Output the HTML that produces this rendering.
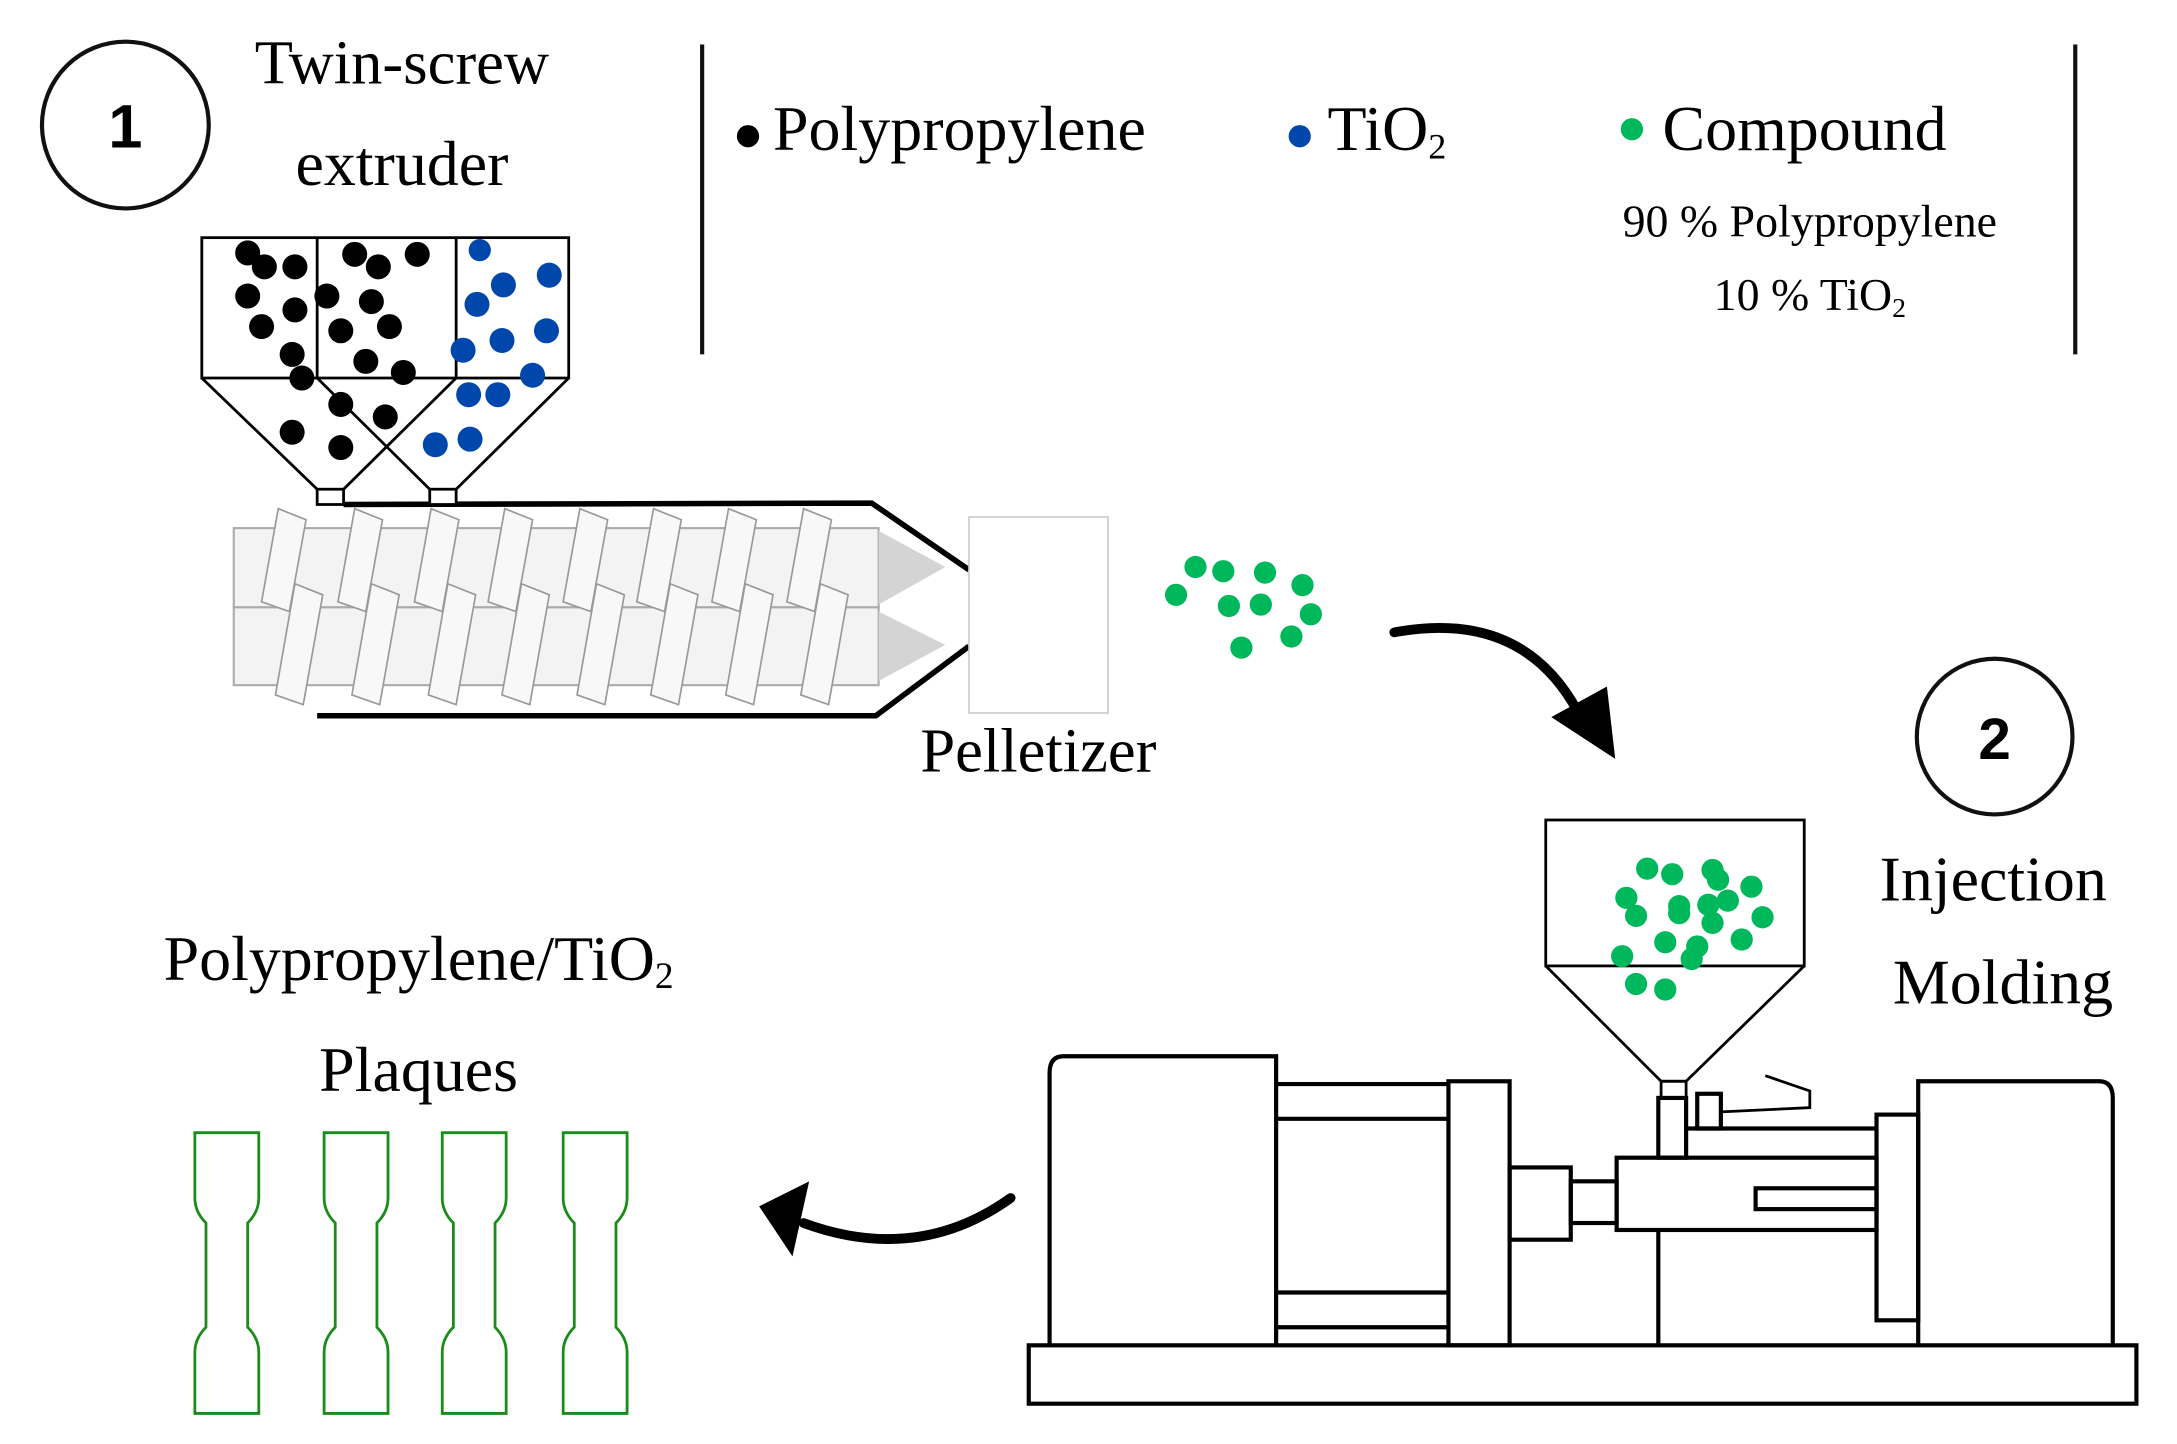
<!DOCTYPE html>
<html><head><meta charset="utf-8"><style>html,body{margin:0;padding:0;background:#fff}svg{display:block}</style></head><body>
<svg width="2177" height="1444" viewBox="0 0 1566 1039" xmlns="http://www.w3.org/2000/svg" font-family="Liberation Serif, serif">
<rect width="1566" height="1039" fill="#fff"/>
<circle cx="90" cy="90" r="60" fill="none" stroke="#111" stroke-width="3"/>
<text x="90" y="106" font-family="Liberation Sans, sans-serif" font-weight="bold" font-size="44" text-anchor="middle">1</text>
<text x="289" y="60" font-size="45" text-anchor="middle">Twin-screw</text>
<text x="289" y="133" font-size="46" text-anchor="middle">extruder</text>
<line x1="505" y1="32" x2="505" y2="255" stroke="#111" stroke-width="3"/>
<line x1="1493" y1="32" x2="1493" y2="255" stroke="#111" stroke-width="3"/>
<circle cx="538" cy="98" r="8" fill="#000"/>
<text x="556" y="108" font-size="46">Polypropylene</text>
<circle cx="935" cy="98" r="8" fill="#0047ab"/>
<text x="955" y="108" font-size="46">TiO<tspan font-size="26" dy="6">2</tspan></text>
<circle cx="1174" cy="93" r="8" fill="#00b85c"/>
<text x="1196" y="108" font-size="46">Compound</text>
<text x="1302" y="170" font-size="33" text-anchor="middle">90 % Polypropylene</text>
<text x="1302" y="223" font-size="33" text-anchor="middle">10 % TiO<tspan font-size="20" dy="5">2</tspan></text>

<g stroke="#aaa" stroke-width="1.5" fill="#f3f3f3">
<rect x="168" y="380" width="464" height="57"/>
<rect x="168" y="437" width="464" height="56"/>
</g>
<polygon points="632,382 680,408 632,435" fill="#d4d4d4"/>
<polygon points="632,440 680,464 632,490" fill="#d4d4d4"/>
<g stroke="#999" stroke-width="1.2" fill="#f8f8f8">
<g id="ft"><polygon points="200,366 220,374 208,440 188,433"/></g>
<use href="#ft" x="55"/><use href="#ft" x="110"/><use href="#ft" x="163"/><use href="#ft" x="217"/><use href="#ft" x="270"/><use href="#ft" x="324"/><use href="#ft" x="378"/>
<g id="fb"><polygon points="212,420 232,428 218,507 198,500"/></g>
<use href="#fb" x="55"/><use href="#fb" x="110"/><use href="#fb" x="163"/><use href="#fb" x="217"/><use href="#fb" x="270"/><use href="#fb" x="324"/><use href="#fb" x="378"/>
</g>
<polyline points="247,363 627,362 697,410" fill="none" stroke="#000" stroke-width="4"/>
<polyline points="228,515 630,515 697,465" fill="none" stroke="#000" stroke-width="4"/>
<g fill="none" stroke="#000" stroke-width="2">
<rect x="145" y="171" width="264" height="101"/>
<line x1="228" y1="171" x2="228" y2="272"/><line x1="328" y1="171" x2="328" y2="272"/>
<line x1="145" y1="272" x2="228" y2="352"/><line x1="328" y1="272" x2="247" y2="352"/>
<line x1="228" y1="272" x2="309" y2="352"/><line x1="409" y1="272" x2="328" y2="352"/>
<rect x="228" y="352" width="19" height="11" fill="#fff"/><rect x="309" y="352" width="19" height="11" fill="#fff"/>
</g>
<g fill="#000">
<circle cx="178" cy="182" r="9"/><circle cx="190" cy="192" r="9"/><circle cx="212" cy="192" r="9"/><circle cx="255" cy="183" r="9"/><circle cx="272" cy="192" r="9"/><circle cx="300" cy="183" r="9"/><circle cx="178" cy="213" r="9"/><circle cx="212" cy="223" r="9"/><circle cx="235" cy="213" r="9"/><circle cx="267" cy="217" r="9"/><circle cx="188" cy="235" r="9"/><circle cx="245" cy="238" r="9"/><circle cx="280" cy="235" r="9"/><circle cx="210" cy="255" r="9"/><circle cx="263" cy="260" r="9"/><circle cx="290" cy="268" r="9"/><circle cx="217" cy="272" r="9"/><circle cx="245" cy="291" r="9"/><circle cx="277" cy="300" r="9"/><circle cx="210" cy="311" r="9"/><circle cx="245" cy="322" r="9"/>
</g>
<g fill="#0047ab">
<circle cx="345" cy="180" r="8"/><circle cx="395" cy="198" r="9"/><circle cx="362" cy="205" r="9"/><circle cx="343" cy="219" r="9"/><circle cx="393" cy="238" r="9"/><circle cx="361" cy="245" r="9"/><circle cx="333" cy="252" r="9"/><circle cx="383" cy="270" r="9"/><circle cx="337" cy="284" r="9"/><circle cx="358" cy="284" r="9"/><circle cx="313" cy="320" r="9"/><circle cx="338" cy="316" r="9"/>
</g>
<rect x="697" y="372" width="100" height="141" fill="#fff" stroke="#ccc" stroke-width="1.2"/>
<text x="747" y="555" font-size="45" text-anchor="middle">Pelletizer</text>
<g fill="#00b85c">
<circle cx="860" cy="408" r="8"/><circle cx="880" cy="411" r="8"/><circle cx="910" cy="412" r="8"/><circle cx="937" cy="421" r="8"/><circle cx="846" cy="428" r="8"/><circle cx="884" cy="436" r="8"/><circle cx="907" cy="435" r="8"/><circle cx="943" cy="442" r="8"/><circle cx="929" cy="458" r="8"/><circle cx="893" cy="466" r="8"/>
</g>
<path d="M1003,455 Q1095,438 1135,512" fill="none" stroke="#000" stroke-width="7" stroke-linecap="round"/>
<polygon points="1162,546 1116,516 1156,494" fill="#000"/>
<circle cx="1435" cy="530" r="56" fill="none" stroke="#111" stroke-width="3"/>
<text x="1435" y="546" font-family="Liberation Sans, sans-serif" font-weight="bold" font-size="42" text-anchor="middle">2</text>
<text x="1434" y="648" font-size="46" text-anchor="middle">Injection</text>
<text x="1441" y="722" font-size="46" text-anchor="middle">Molding</text>
<g fill="none" stroke="#000" stroke-width="3">
<rect x="1112" y="590" width="186" height="105" stroke-width="2"/>
<polyline points="1112,695 1195,778 1213,778 1298,695" stroke-width="2"/>
<rect x="1195" y="778" width="18" height="12" stroke-width="2"/>
<path d="M918,968 V760 H765 Q755,760 755,772 V968"/>
<line x1="918" y1="780" x2="1042" y2="780"/><line x1="918" y1="805" x2="1042" y2="805"/>
<line x1="918" y1="930" x2="1042" y2="930"/><line x1="918" y1="955" x2="1042" y2="955"/>
<rect x="1042" y="778" width="44" height="190"/>
<rect x="1086" y="840" width="44" height="52"/>
<rect x="1130" y="850" width="33" height="30"/>
<rect x="1163" y="833" width="187" height="52"/>
<rect x="1263" y="855" width="87" height="15"/>
<rect x="1193" y="790" width="20" height="43"/>
<rect x="1221" y="787" width="17" height="25"/>
<polyline points="1238,800 1302,797 1302,785 1270,774" stroke-width="2"/>
<line x1="1213" y1="812" x2="1350" y2="812"/>
<rect x="1350" y="802" width="30" height="148"/>
<path d="M1380,968 V778 H1510 Q1520,778 1520,790 V968"/>
<line x1="1193" y1="885" x2="1193" y2="968"/>
<rect x="740" y="968" width="797" height="42"/>
</g>
<g fill="#00b85c">
<circle cx="1185" cy="625" r="8"/><circle cx="1203" cy="629" r="8"/><circle cx="1232" cy="626" r="8"/><circle cx="1236" cy="633" r="8"/><circle cx="1260" cy="638" r="8"/><circle cx="1170" cy="646" r="8"/><circle cx="1243" cy="648" r="8"/><circle cx="1208" cy="652" r="8"/><circle cx="1229" cy="651" r="8"/><circle cx="1177" cy="659" r="8"/><circle cx="1208" cy="657" r="8"/><circle cx="1232" cy="664" r="8"/><circle cx="1268" cy="660" r="8"/><circle cx="1198" cy="678" r="8"/><circle cx="1221" cy="681" r="8"/><circle cx="1253" cy="676" r="8"/><circle cx="1167" cy="688" r="8"/><circle cx="1217" cy="690" r="8"/><circle cx="1177" cy="708" r="8"/><circle cx="1198" cy="712" r="8"/>
</g>
<path d="M727,862 Q660,910 578,880" fill="none" stroke="#000" stroke-width="7" stroke-linecap="round"/>
<polygon points="546,868 582,850 570,904" fill="#000"/>
<text x="301" y="705" font-size="46" text-anchor="middle">Polypropylene/TiO<tspan font-size="27" dy="6">2</tspan></text>
<text x="301" y="785" font-size="46" text-anchor="middle">Plaques</text>
<g fill="none" stroke="#1a8c1a" stroke-width="2">
<g id="pq"><path d="M140,815 H186 V862 Q186,872 178,880 V955 Q186,963 186,973 V1017 H140 V973 Q140,963 148,955 V880 Q140,872 140,862 Z"/></g>
<use href="#pq" x="93"/><use href="#pq" x="178"/><use href="#pq" x="265"/>
</g>
</svg>
</body></html>
